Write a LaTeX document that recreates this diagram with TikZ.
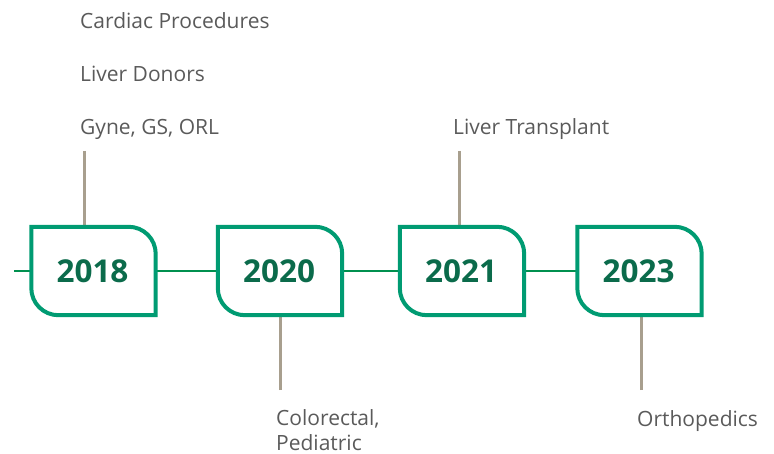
\documentclass[tikz,border=0pt]{standalone}
\usepackage{fontspec}
\setmainfont{Open Sans}
\definecolor{boxgreen}{HTML}{009B72}
\definecolor{yeargreen}{HTML}{0B6B4B}
\definecolor{linegreen}{HTML}{00904F}
\definecolor{tickgray}{HTML}{A89F8E}
\definecolor{txtgray}{HTML}{5A5A5A}
\tikzset{
  yearnode/.style={minimum width=124pt, minimum height=88pt, inner sep=0pt,
    font=\fontsize{31.5}{32}\selectfont\bfseries, text=yeargreen},
  boxline/.style={draw=boxgreen, line width=4pt, fill=white},
  timeline/.style={draw=linegreen, line width=2.2pt},
  tick/.style={draw=tickgray, line width=3pt},
  label/.style={anchor=base west, inner sep=0pt, text=txtgray,
    font=\fontsize{21}{25}\selectfont},
}
\begin{document}
\begin{tikzpicture}[x=1pt,y=-1pt]
\useasboundingbox (0,0) rectangle (774,454);
% year nodes (positions)
\node[yearnode] (y18) at (93.5,271) {};
\node[yearnode] (y20) at (280,271) {};
\node[yearnode] (y21) at (462,271) {};
\node[yearnode] (y23) at (639.5,271) {};
\coordinate (start) at (14,271);
% tick end points
\coordinate (t18) at (84,151);
\coordinate (t21) at (459,151);
\coordinate (t20) at (280,390);
\coordinate (t23) at (641,390);
% timeline
\draw[timeline] (start) -- (y18.west);
\draw[timeline] (y18.east) -- (y20.west);
\draw[timeline] (y20.east) -- (y21.west);
\draw[timeline] (y21.east) -- (y23.west);
% ticks
\draw[tick] (t18) -- (t18 |- y18.north);
\draw[tick] (t21) -- (t21 |- y21.north);
\draw[tick] (t20) -- (t20 |- y20.south);
\draw[tick] (t23) -- (t23 |- y23.south);
% boxes
\foreach \n/\t in {y18/2018, y20/2020, y21/2021, y23/2023}{
  \draw[boxline] (\n.north west) -- ([xshift=-27pt]\n.north east)
     arc[start angle=90, end angle=0, radius=27pt]
     -- (\n.south east) -- ([xshift=27pt]\n.south west)
     arc[start angle=270, end angle=180, radius=27pt] -- cycle;
  \node[yearnode] at ([xshift=-1pt]\n) {\t};
}
% labels
\node[label] (l1) at (80,29) {Cardiac Procedures};
\node[label] (l2) at (80,82) {Liver Donors};
\node[label] (l3) at (80,135) {Gyne, GS, ORL};
\node[label] (l4) at (453,135) {Liver Transplant};
\node[label, align=left] (l5) at (276,450) {Colorectal,\\Pediatric};
\node[label] (l6) at (637,426) {Orthopedics};
\end{tikzpicture}
\end{document}
